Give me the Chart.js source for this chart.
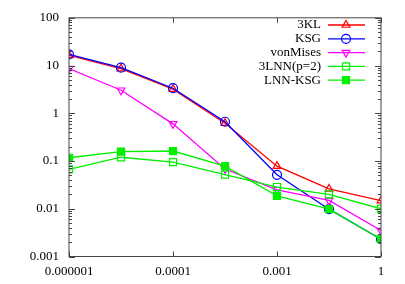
<!DOCTYPE html>
<html>
<head>
<meta charset="utf-8">
<script src="https://cdn.jsdelivr.net/npm/chart.js@4.4.1/dist/chart.umd.min.js"></script>
<style>
  html, body { margin: 0; padding: 0; background: #fff; }
  #wrap { width: 405px; height: 284px; }
</style>
</head>
<body>
<div id="wrap"><canvas id="chart" width="405" height="284"></canvas></div>
<script>
// x positions are evenly spaced, labels only on every other point
const xLabels = ["0.000001", "", "0.0001", "", "0.001", "", "1"];
const xTicks = [0, 2, 4, 6];
const yTicks = [0.001, 0.01, 0.1, 1, 10, 100];

const kl3 = [16.3, 8.6, 3.2, 0.62, 0.078, 0.026, 0.0148];
const ksg = [17.1, 9.0, 3.35, 0.665, 0.0515, 0.0098, 0.0023];
const vonMises = [8.6, 3.04, 0.6, 0.068, 0.025, 0.015, 0.0035];
const lnn3 = [0.0666, 0.12, 0.095, 0.052, 0.0285, 0.02, 0.01];
const lnnKsg = [0.117, 0.158, 0.162, 0.078, 0.0187, 0.0098, 0.0023];

const GREEN = "#00f000";
const FONT = "Liberation Serif";

const series = [
  { label: "3KL", data: kl3, color: "#ff0000", style: "triangle", rot: 0, fill: false },
  { label: "KSG", data: ksg, color: "#0000ff", style: "circle", rot: 0, fill: false },
  { label: "vonMises", data: vonMises, color: "#ff00ff", style: "triangle", rot: 180, fill: false },
  { label: "3LNN(p=2)", data: lnn3, color: GREEN, style: "rect", rot: 0, fill: false },
  { label: "LNN-KSG", data: lnnKsg, color: GREEN, style: "rect", rot: 0, fill: true }
];

const datasets = series.map((s, i) => ({
  label: s.label,
  data: s.data.map((v, j) => ({ x: j, y: v })),
  borderColor: s.color,
  backgroundColor: s.fill ? s.color : "rgba(0,0,0,0)",
  pointBackgroundColor: s.fill ? s.color : "#ffffff00",
  pointBorderColor: s.color,
  pointStyle: s.style,
  pointRotation: s.rot,
  pointRadius: s.style === "rect" ? 5 : 4.5,
  pointBorderWidth: 1.2,
  borderWidth: 1.3,
  tension: 0,
  order: series.length - i
}));

// frame, inner tick marks and gnuplot-style legend
const framePlugin = {
  id: "frame",
  afterDraw(chart) {
    const { ctx, chartArea: a, scales } = chart;
    ctx.save();
    ctx.strokeStyle = "#444";
    ctx.lineWidth = 1;
    ctx.strokeRect(a.left, a.top, a.right - a.left, a.bottom - a.top);

    // y ticks (major + minor) on left and right
    for (let d = -3; d <= 2; d++) {
      for (let m = 1; m <= 9; m++) {
        const v = m * Math.pow(10, d);
        if (v > 100) break;
        const py = Math.round(scales.y.getPixelForValue(v)) + 0.5;
        const len = m === 1 ? 6 : 3;
        ctx.beginPath();
        ctx.moveTo(a.left, py); ctx.lineTo(a.left + len, py);
        ctx.moveTo(a.right, py); ctx.lineTo(a.right - len, py);
        ctx.stroke();
      }
    }
    // x ticks top and bottom
    xTicks.forEach(t => {
      const px = Math.round(scales.x.getPixelForValue(t)) + 0.5;
      ctx.beginPath();
      ctx.moveTo(px, a.bottom); ctx.lineTo(px, a.bottom - 5);
      ctx.moveTo(px, a.top); ctx.lineTo(px, a.top + 5);
      ctx.stroke();
    });

    // legend
    ctx.font = "13px '" + FONT + "'";
    ctx.textAlign = "right";
    ctx.textBaseline = "middle";
    chart.data.datasets.forEach((ds, i) => {
      const y = 25 + i * 13.8;
      ctx.fillStyle = "#000";
      ctx.fillText(ds.label, 321, y);
      ctx.strokeStyle = ds.borderColor;
      ctx.lineWidth = 1.3;
      ctx.beginPath();
      ctx.moveTo(328, y); ctx.lineTo(365, y);
      ctx.stroke();
      ctx.fillStyle = ds.pointBackgroundColor;
      ctx.lineWidth = 1.2;
      Chart.helpers.drawPoint(ctx, {
        pointStyle: ds.pointStyle,
        rotation: ds.pointRotation,
        radius: ds.pointRadius,
        borderWidth: 1.2
      }, 346, y);
    });
    ctx.restore();
  }
};

new Chart(document.getElementById("chart"), {
  type: "line",
  data: { datasets },
  plugins: [framePlugin],
  options: {
    responsive: false,
    animation: false,
    events: [],
    layout: { padding: { left: 0, right: 24, top: 16.5, bottom: 0 } },
    plugins: { legend: { display: false }, tooltip: { enabled: false } },
    scales: {
      x: {
        type: "linear",
        min: 0,
        max: 6,
        grid: { display: false, drawTicks: false },
        border: { display: false },
        afterBuildTicks: s => { s.ticks = xTicks.map(v => ({ value: v })); },
        afterFit: s => { s.height = 27.5; },
        ticks: {
          padding: 7,
          maxRotation: 0,
          autoSkip: false,
          color: "#000",
          font: { family: FONT, size: 13 },
          callback: v => xLabels[v]
        }
      },
      y: {
        type: "logarithmic",
        min: 0.001,
        max: 100,
        grid: { display: false, drawTicks: false },
        border: { display: false },
        afterBuildTicks: s => { s.ticks = yTicks.map(v => ({ value: v })); },
        afterFit: s => { s.width = 69; },
        ticks: {
          padding: 10,
          color: "#000",
          font: { family: FONT, size: 13 },
          callback: v => String(v)
        }
      }
    }
  }
});
</script>
</body>
</html>
